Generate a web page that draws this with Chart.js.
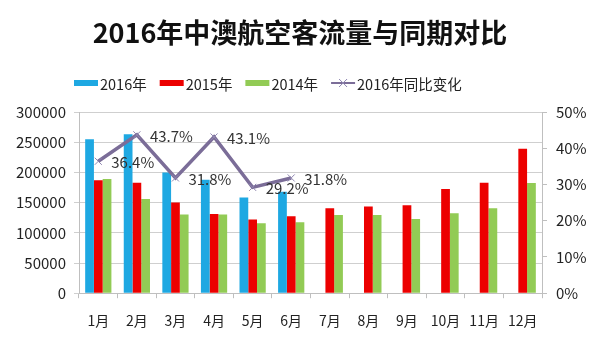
<!DOCTYPE html>
<html><head><meta charset="utf-8">
<script src="https://cdn.jsdelivr.net/npm/chart.js@4/dist/chart.umd.min.js"></script>
<style>html,body{margin:0;padding:0;background:#fff}#wrap{width:600px;height:343px;position:relative}</style>
</head><body><div id="wrap"><canvas id="c"></canvas></div>
<script>
const categories = ['1月','2月','3月','4月','5月','6月','7月','8月','9月','10月','11月','12月'];
const pax2016 = [255000, 263000, 200000, 188000, 158500, 168000, null, null, null, null, null, null];
const pax2015 = [187000, 183000, 150000, 131000, 122000, 127500, 140500, 143500, 145500, 172500, 183000, 239000];
const pax2014 = [189000, 156000, 130500, 130500, 116000, 117500, 129500, 129500, 123000, 132500, 140500, 182500];
const yoy2016 = [36.4, 43.7, 31.8, 43.1, 29.2, 31.8, null, null, null, null, null, null];
const seriesNames = ['2016年', '2015年', '2014年', '2016年同比变化'];
const leftAxisRange = [0, 300000, 50000];
const rightAxisRange = [0, 50, 10];

const FONT = '"Noto Sans CJK SC", "Noto Sans", sans-serif';
const LINE_COLOR = '#7b6d98';

const lineLabels = {
  id: 'lineLabels',
  afterDatasetsDraw(chart) {
    const ctx = chart.ctx;
    const meta = chart.getDatasetMeta(3);
    const data = chart.data.datasets[3].data;
    ctx.save();
    ctx.font = '15px ' + FONT;
    ctx.fillStyle = '#333';
    ctx.textAlign = 'left';
    ctx.textBaseline = 'middle';
    meta.data.forEach((pt, i) => {
      const v = data[i];
      if (v == null) return;
      ctx.fillText(v.toFixed(1) + '%', pt.x + 13, pt.y + 1);
    });
    ctx.restore();
  }
};

// Excel-style legend: wide swatch, small gap to text, placed like the original
const excelLegend = {
  id: 'excelLegend',
  afterDraw(chart) {
    const ctx = chart.ctx;
    const y = 83;
    let x = 74;
    ctx.save();
    ctx.font = '14.5px ' + FONT;
    ctx.textAlign = 'left';
    ctx.textBaseline = 'middle';
    chart.data.datasets.forEach((ds, i) => {
      if (i === 3) {
        ctx.strokeStyle = LINE_COLOR;
        ctx.lineWidth = 2;
        ctx.beginPath(); ctx.moveTo(x, y); ctx.lineTo(x + 24, y); ctx.stroke();
        ctx.strokeStyle = '#8f86b0';
        ctx.lineWidth = 1;
        const cx = x + 12;
        ctx.beginPath();
        ctx.moveTo(cx - 4, y - 4); ctx.lineTo(cx + 4, y + 4);
        ctx.moveTo(cx - 4, y + 4); ctx.lineTo(cx + 4, y - 4);
        ctx.stroke();
      } else {
        ctx.fillStyle = ds.backgroundColor;
        ctx.fillRect(x, y - 3, 24, 6);
      }
      x += 26;
      ctx.fillStyle = '#222';
      ctx.fillText(ds.label, x, y + 1);
      x += ctx.measureText(ds.label).width + 13;
    });
    ctx.restore();
  }
};

new Chart(document.getElementById('c'), {
  type: 'bar',
  data: {
    labels: categories,
    datasets: [
      { label: seriesNames[0], data: pax2016, backgroundColor: '#1ea8e2', yAxisID: 'y', order: 1, barPercentage: 1, categoryPercentage: 0.68 },
      { label: seriesNames[1], data: pax2015, backgroundColor: '#ec0000', yAxisID: 'y', order: 1, barPercentage: 1, categoryPercentage: 0.68 },
      { label: seriesNames[2], data: pax2014, backgroundColor: '#92cb55', yAxisID: 'y', order: 1, barPercentage: 1, categoryPercentage: 0.68 },
      { type: 'line', label: seriesNames[3], data: yoy2016, yAxisID: 'y1', order: 0,
        borderColor: LINE_COLOR, borderWidth: 3.5, tension: 0, spanGaps: false,
        pointStyle: 'crossRot', pointRadius: 5, pointBorderWidth: 1, pointBorderColor: '#8f86b0', pointBackgroundColor: '#8f86b0' }
    ]
  },
  options: {
    responsive: true,
    maintainAspectRatio: false,
    animation: false,
    layout: { padding: { left: 0, right: 0, top: 0, bottom: 0 } },
    plugins: {
      tooltip: { enabled: false },
      legend: { display: false },
      title: {
        display: true,
        text: '2016年中澳航空客流量与同期对比',
        font: { family: FONT, size: 27, weight: 'bold' },
        color: '#111',
        padding: { top: 17, bottom: 62.6 }
      }
    },
    scales: {
      x: {
        grid: { offset: true, drawOnChartArea: false, drawTicks: true, tickLength: 5, color: '#bfbfbf' },
        border: { color: '#bfbfbf' },
        ticks: { font: { family: FONT, size: 14 }, color: '#222', padding: 14, maxRotation: 0, autoSkip: false }
      },
      y: {
        position: 'left',
        min: leftAxisRange[0], max: leftAxisRange[1],
        ticks: { stepSize: leftAxisRange[2], font: { family: FONT, size: 15 }, color: '#222', padding: 8,
          callback: v => String(v) },
        grid: { color: '#cfcfcf', tickLength: 5 },
        border: { color: '#bfbfbf' },
        afterFit(scale) { scale.width = 79; }
      },
      y1: {
        position: 'right',
        min: rightAxisRange[0], max: rightAxisRange[1],
        ticks: { stepSize: rightAxisRange[2], font: { family: FONT, size: 15 }, color: '#222', padding: 9,
          callback: v => v + '%' },
        grid: { drawOnChartArea: false, tickLength: 5, color: '#bfbfbf' },
        border: { color: '#bfbfbf' },
        afterFit(scale) { scale.width = 58; }
      }
    }
  },
  plugins: [lineLabels, excelLegend]
});
</script>
</body></html>
